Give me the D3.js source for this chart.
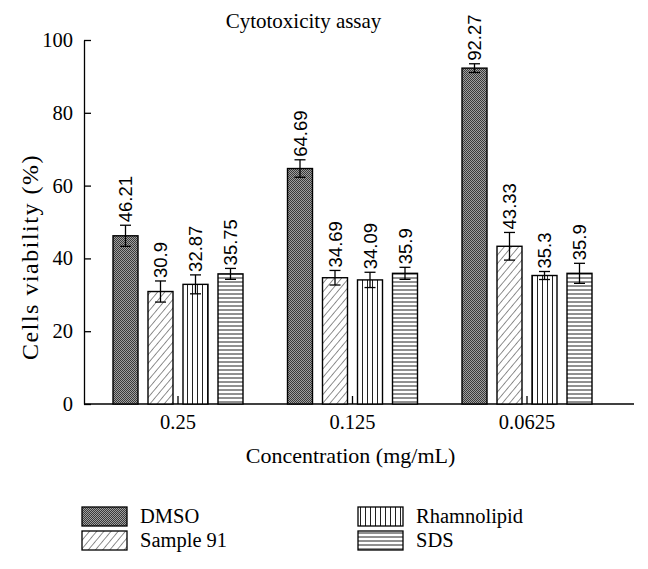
<!DOCTYPE html>
<html><head><meta charset="utf-8">
<script src="https://cdn.jsdelivr.net/npm/d3@7"></script>
<style>body{margin:0;background:#fff}svg{display:block}</style>
</head><body>
<svg id="c" width="648" height="569"></svg>
<script>
const categories = ["0.25", "0.125", "0.0625"];
const seriesNames = ["DMSO", "Sample 91", "Rhamnolipid", "SDS"];
const dmso = [46.21, 64.69, 92.27];
const sample91 = [30.9, 34.69, 43.33];
const rhamnolipid = [32.87, 34.09, 35.3];
const sds = [35.75, 35.9, 35.9];
const dmsoErr = [2.9, 2.4, 1.2];
const sample91Err = [2.9, 2.0, 3.8];
const rhamnolipidErr = [2.6, 2.1, 1.1];
const sdsErr = [1.5, 1.65, 2.75];
const yTicks = [0, 20, 40, 60, 80, 100];

const values = [dmso, sample91, rhamnolipid, sds];
const errors = [dmsoErr, sample91Err, rhamnolipidErr, sdsErr];
const patterns = ["pDmso", "pDiag", "pVert", "pHoriz"];

const svg = d3.select("#c");
const serif = "Liberation Serif";
const sans = "Liberation Sans";

const defs = svg.append("defs");
const p1 = defs.append("pattern").attr("id", "pDmso").attr("patternUnits", "userSpaceOnUse").attr("width", 2).attr("height", 2);
p1.append("rect").attr("width", 2).attr("height", 2).attr("fill", "#a0a0a0");
p1.append("rect").attr("width", 1).attr("height", 1).attr("fill", "#3a3a3a");
p1.append("rect").attr("x", 1).attr("y", 1).attr("width", 1).attr("height", 1).attr("fill", "#3a3a3a");
const p2 = defs.append("pattern").attr("id", "pDiag").attr("patternUnits", "userSpaceOnUse").attr("width", 5.5).attr("height", 5.5).attr("patternTransform", "rotate(40)");
p2.append("rect").attr("width", 5.5).attr("height", 5.5).attr("fill", "#fff");
p2.append("line").attr("x1", 0).attr("y1", 0).attr("x2", 0).attr("y2", 5.5).attr("stroke", "#222").attr("stroke-width", 1);
const p3 = defs.append("pattern").attr("id", "pVert").attr("patternUnits", "userSpaceOnUse").attr("width", 5).attr("height", 5);
p3.append("rect").attr("width", 5).attr("height", 5).attr("fill", "#fff");
p3.append("line").attr("x1", 2.5).attr("y1", 0).attr("x2", 2.5).attr("y2", 5).attr("stroke", "#222").attr("stroke-width", 1);
const p4 = defs.append("pattern").attr("id", "pHoriz").attr("patternUnits", "userSpaceOnUse").attr("width", 4).attr("height", 4);
p4.append("rect").attr("width", 4).attr("height", 4).attr("fill", "#fff");
p4.append("line").attr("x1", 0).attr("y1", 2).attr("x2", 4).attr("y2", 2).attr("stroke", "#222").attr("stroke-width", 1);

const y = d3.scaleLinear().domain([0, 100]).range([404, 40]);
const x0 = d3.scaleBand().domain(categories).range([90.75, 614.25]);
const x1 = d3.scaleBand().domain(seriesNames).range([-65, 65]).paddingInner(10 / 35);

const yAxis = svg.append("g").attr("transform", "translate(84,0)")
  .call(d3.axisLeft(y).tickValues(yTicks).tickSizeInner(-7).tickSizeOuter(0).tickPadding(11));
yAxis.attr("font-family", serif).attr("font-size", 20.5);
yAxis.selectAll("text").style("font-family", serif).attr("font-size", 20.5).attr("fill", "#000");
yAxis.selectAll("line,path").attr("stroke", "#000").attr("stroke-width", 1.3);

const xAxis = svg.append("g").attr("transform", "translate(0,404)")
  .call(d3.axisBottom(x0).tickSizeInner(-8).tickSizeOuter(0).tickPadding(10));
xAxis.attr("font-family", serif).attr("font-size", 20.5);
xAxis.select(".domain").remove();
xAxis.selectAll("text").style("font-family", serif).attr("font-size", 20.5).attr("fill", "#000");
xAxis.selectAll("line").attr("stroke", "#000").attr("stroke-width", 1.3);
svg.append("line").attr("x1", 84).attr("x2", 634).attr("y1", 404).attr("y2", 404).attr("stroke", "#000").attr("stroke-width", 1.3);

const data = [];
categories.forEach((c, ci) => seriesNames.forEach((s, si) => data.push({c, s, si, v: values[si][ci], e: errors[si][ci]})));

const g = svg.append("g");
g.selectAll("rect.bar").data(data).join("rect").attr("class", "bar")
  .attr("x", d => x0(d.c) + x0.bandwidth() / 2 + x1(d.s))
  .attr("y", d => y(d.v))
  .attr("width", x1.bandwidth())
  .attr("height", d => y(0) - y(d.v))
  .attr("fill", d => `url(#${patterns[d.si]})`)
  .attr("stroke", "#000").attr("stroke-width", 1.4);

const cx = d => x0(d.c) + x0.bandwidth() / 2 + x1(d.s) + x1.bandwidth() / 2;
const eb = g.selectAll("g.err").data(data).join("g").attr("class", "err").attr("stroke", "#000").attr("stroke-width", 1.3);
eb.append("line").attr("x1", cx).attr("x2", cx).attr("y1", d => y(d.v + d.e)).attr("y2", d => y(d.v - d.e));
eb.append("line").attr("x1", d => cx(d) - 5.5).attr("x2", d => cx(d) + 5.5).attr("y1", d => y(d.v + d.e)).attr("y2", d => y(d.v + d.e));
eb.append("line").attr("x1", d => cx(d) - 5.5).attr("x2", d => cx(d) + 5.5).attr("y1", d => y(d.v - d.e)).attr("y2", d => y(d.v - d.e));

g.selectAll("text.val").data(data).join("text").attr("class", "val")
  .attr("transform", d => `translate(${cx(d)},${y(d.v + d.e) - 3}) rotate(-90)`)
  .attr("dy", "0.36em")
  .style("font-family", sans).attr("font-size", 18.5).attr("fill", "#000")
  .text(d => String(d.v));

svg.append("text").attr("x", 303.5).attr("y", 28).attr("text-anchor", "middle")
  .style("font-family", serif).attr("font-size", 21).text("Cytotoxicity assay");
svg.append("text").attr("x", 350.5).attr("y", 463).attr("text-anchor", "middle")
  .style("font-family", serif).attr("font-size", 22).text("Concentration (mg/mL)");
svg.append("text").attr("transform", "translate(38,257) rotate(-90)").attr("text-anchor", "middle")
  .style("font-family", serif).attr("font-size", 24).attr("letter-spacing", 1.5).text("Cells viability (%)");

const legPos = [[82, 507], [82, 531], [358, 507], [358, 531]];
const leg = svg.selectAll("g.leg").data(seriesNames).join("g").attr("class", "leg")
  .attr("transform", (d, i) => `translate(${legPos[i][0]},${legPos[i][1]})`);
leg.append("rect").attr("width", 45).attr("height", 19).attr("fill", (d, i) => `url(#${patterns[i]})`)
  .attr("stroke", "#000").attr("stroke-width", 1.3);
leg.append("text").attr("x", 58).attr("y", 16).style("font-family", serif).attr("font-size", 20.5).text(d => d);
</script>
</body></html>
